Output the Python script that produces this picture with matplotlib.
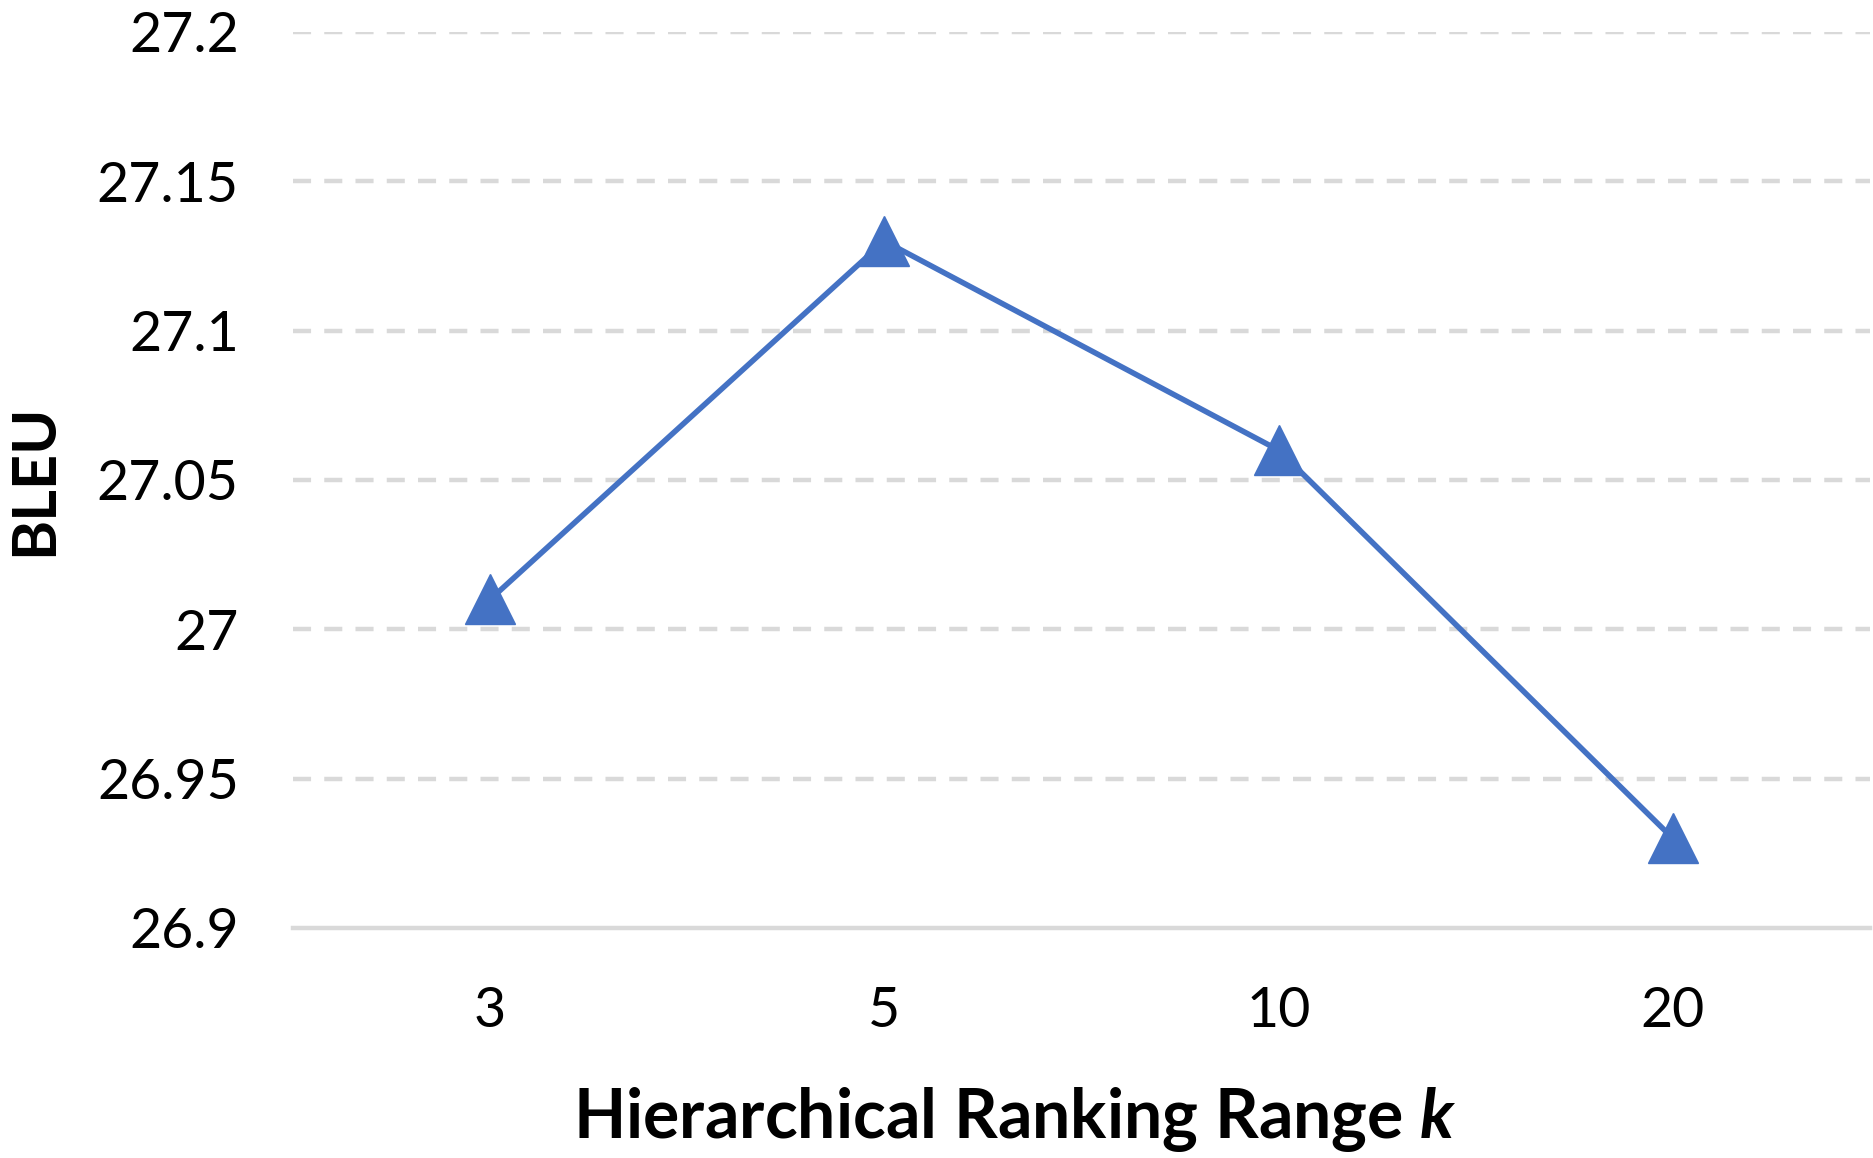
import matplotlib.pyplot as plt

# values
k_labels = ["3", "5", "10", "20"]
bleu = [27.01, 27.13, 27.06, 26.93]
y_ticks = [26.9, 26.95, 27.0, 27.05, 27.1, 27.15, 27.2]
y_tick_labels = ["26.9", "26.95", "27", "27.05", "27.1", "27.15", "27.2"]

plt.rcParams['font.family'] = ['Lato', 'DejaVu Sans']
plt.rcParams['lines.scale_dashes'] = False
plt.rcParams['mathtext.fontset'] = 'custom'
plt.rcParams['mathtext.bfit'] = 'Lato:italic:bold'

fig = plt.figure(figsize=(18.74, 11.58), dpi=100)
ax = fig.add_axes([293 / 1874, 1 - 928 / 1158, 1577 / 1874, (928 - 32) / 1158])

x = list(range(len(k_labels)))
ax.plot(x, bleu, color="#4472C4", lw=4.0, marker="^", markersize=36, zorder=3)

ax.set_xlim(-0.5, len(k_labels) - 0.5)
ax.set_ylim(26.9, 27.2)
ax.set_yticks(y_ticks)
ax.set_yticklabels(y_tick_labels)
ax.set_xticks(x)
ax.set_xticklabels(k_labels)
ax.tick_params(length=0, labelsize=40)
ax.tick_params(axis="x", pad=42)
ax.tick_params(axis="y", pad=39)

for yv in y_ticks[1:]:
    ax.axhline(yv, color="#D9D9D9", lw=3.2, dashes=(13, 9.5), zorder=1)
for s in ["top", "right", "left"]:
    ax.spines[s].set_visible(False)
ax.spines["bottom"].set_color("#D9D9D9")
ax.spines["bottom"].set_linewidth(3.2)

ax.set_ylabel("BLEU", fontsize=44, fontweight="bold", labelpad=25)
ax.set_xlabel(r"Hierarchical Ranking Range $\mathbfit{k}$", fontsize=49, fontweight="bold", labelpad=34)
ax.xaxis.label.set_x((1015 - 293) / 1577)

fig.savefig("out.png", dpi=100)
